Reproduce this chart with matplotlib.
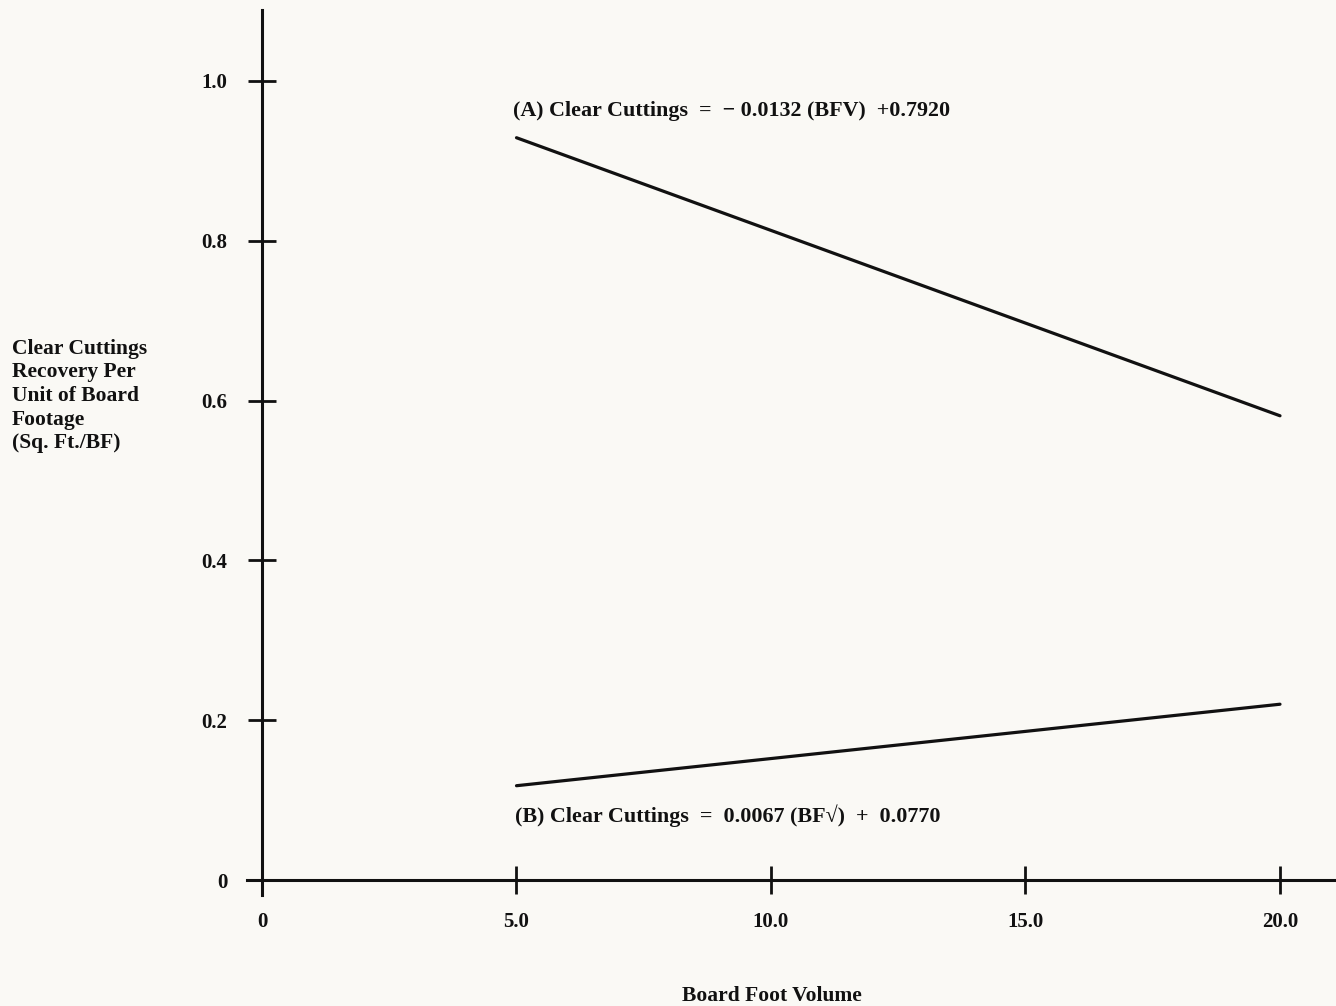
import matplotlib
matplotlib.use("Agg")
import matplotlib.pyplot as plt

# Data
bfv = [5.0, 20.0]
line_a = [0.929, 0.581]
line_b = [0.118, 0.220]
x_ticks = [0, 5.0, 10.0, 15.0, 20.0]
x_tick_labels = ["0", "5.0", "10.0", "15.0", "20.0"]
y_ticks = [0, 0.2, 0.4, 0.6, 0.8, 1.0]
y_tick_labels = ["0", "0.2", "0.4", "0.6", "0.8", "1.0"]

plt.rcParams['font.family'] = ['Liberation Serif', 'DejaVu Serif']
plt.rcParams['font.weight'] = 'bold'

W, H = 1336, 1006
fig = plt.figure(figsize=(W / 100, H / 100), dpi=100)
bg = '#faf9f5'
fig.patch.set_facecolor(bg)
ax = fig.add_axes([0, 0, 1, 1])
ax.set_facecolor(bg)

# pixel mapping: x=0 -> 262px, x=20 -> 1280px ; y=0 -> 880px, y=1 -> 81px
sx = (1280 - 262) / 20.0
sy = (880 - 81) / 1.0
ax.set_xlim(-262 / sx, (W - 262) / sx)
ax.set_ylim(-(H - 880) / sy, 880 / sy)

ink = '#111111'
ax.plot(bfv, line_a, color=ink, lw=2.3, solid_capstyle='round')
ax.plot(bfv, line_b, color=ink, lw=2.3, solid_capstyle='round')

for s in ['top', 'right']:
    ax.spines[s].set_visible(False)
ax.spines['left'].set_position(('data', 0))
ax.spines['bottom'].set_position(('data', 0))
ax.spines['left'].set_bounds(-(895 - 880) / sy, (880 - 10) / sy)
ax.spines['bottom'].set_bounds(-(262 - 247) / sx, (W - 262) / sx)
for s in ['left', 'bottom']:
    ax.spines[s].set_linewidth(2.2)
    ax.spines[s].set_color(ink)

ax.set_xticks(x_ticks)
ax.set_xticklabels(x_tick_labels)
ax.set_yticks(y_ticks)
ax.set_yticklabels(y_tick_labels)
ax.tick_params(axis='both', direction='inout', length=20, width=2.0, color=ink,
               labelsize=15, labelcolor=ink)
ax.tick_params(axis='y', pad=15)
ax.tick_params(axis='x', pad=13)
for lbl in ax.get_xticklabels() + ax.get_yticklabels():
    lbl.set_fontweight('bold')

def px(xp, yp):
    return (xp - 262) / sx, (880 - yp) / sy

fs = 15.8
ax.text(*px(513, 111), "(A) Clear Cuttings  =  \u2212 0.0132 (BFV)  +0.7920",
        fontsize=fs, fontweight='bold', ha='left', va='center', color=ink)
ax.text(*px(515, 816), "(B) Clear Cuttings  =  0.0067 (BF\u221a)  +  0.0770",
        fontsize=fs, fontweight='bold', ha='left', va='center', color=ink)

fig.text(12 / W, 1 - 396 / H,
         "Clear Cuttings\nRecovery Per\nUnit of Board\nFootage\n(Sq. Ft./BF)",
         fontsize=15.5, fontweight='bold', ha='left', va='center', color=ink,
         linespacing=1.24)
fig.text(772 / W, 1 - 996 / H, "Board Foot Volume", fontsize=15.5,
         fontweight='bold', ha='center', va='center', color=ink)

fig.savefig("out.png", dpi=100, facecolor=bg)
